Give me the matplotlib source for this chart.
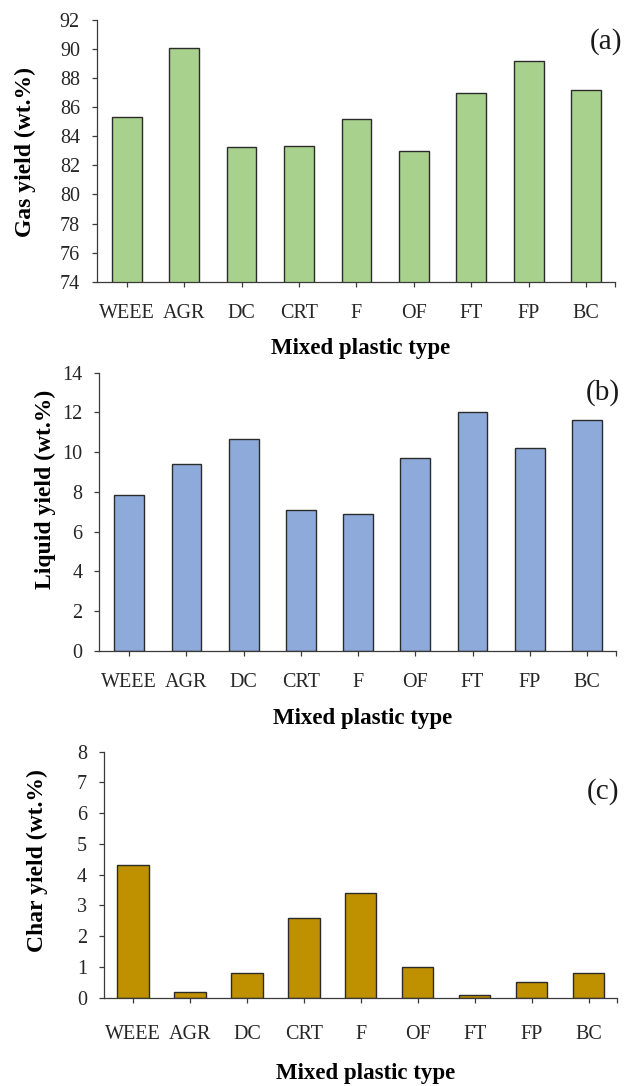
import matplotlib.pyplot as plt

plt.rcParams['font.family'] = ['Liberation Serif', 'DejaVu Serif']

# data
plastic_types = ['WEEE', 'AGR', 'DC', 'CRT', 'F', 'OF', 'FT', 'FP', 'BC']
gas_yield = [85.3, 90.1, 83.25, 83.3, 85.2, 83.0, 87.0, 89.2, 87.2]
liquid_yield = [7.84, 9.41, 10.67, 7.09, 6.89, 9.73, 12.0, 10.23, 11.64]
char_yield = [4.3, 0.2, 0.8, 2.6, 3.4, 1.0, 0.1, 0.5, 0.8]

gas_ticks = list(range(74, 93, 2))
liquid_ticks = list(range(0, 15, 2))
char_ticks = list(range(0, 9, 1))

AXIS_COL = '#3a3a3a'


def draw_panel(ax, values, color, yticks, ylabel, tag, xlim, width,
               xlab_y, ylab_xy, tag_xy, xpad):
    x = range(len(plastic_types))
    ax.bar(x, values, width=width, color=color, edgecolor='#2b2b2b', linewidth=1.0, zorder=2)
    ax.set_xlim(*xlim)
    ax.set_ylim(yticks[0], yticks[-1])
    ax.set_yticks(yticks)
    ax.set_xticks(list(x))
    ax.set_xticklabels(plastic_types)
    ax.set_xticks([xlim[1]], minor=True)
    for s in ['top', 'right']:
        ax.spines[s].set_visible(False)
    for s in ['left', 'bottom']:
        ax.spines[s].set_color(AXIS_COL)
        ax.spines[s].set_linewidth(0.9)
    ax.tick_params(axis='y', direction='out', length=3.6, width=0.9, color=AXIS_COL,
                   pad=8.5, labelsize=14.5, labelcolor='#262626')
    ax.tick_params(axis='x', which='both', direction='out', length=3.6, width=0.9,
                   color=AXIS_COL, pad=xpad, labelsize=14.5, labelcolor='#262626')
    ax.set_ylabel(ylabel, fontsize=17, fontweight='bold', va='center')
    ax.yaxis.set_label_coords(*ylab_xy)
    ax.set_xlabel('Mixed plastic type', fontsize=16.5, fontweight='bold', va='center')
    ax.xaxis.set_label_coords(0.51, xlab_y)
    ax.text(tag_xy[0], tag_xy[1], tag, transform=ax.transAxes, ha='right', va='center',
            fontsize=21, color='#1a1a1a')


fig = plt.figure(figsize=(6.24, 10.86), dpi=100)

ax1 = fig.add_axes([0.155, 0.7406, 0.8306, 0.241])
draw_panel(ax1, gas_yield, '#a9d18e', gas_ticks, 'Gas yield (wt.%)', '(a)',
           (-0.52, 8.5), 0.52, -0.256, (-0.1377, 0.494), (1.0135, 0.916), 12.6)

ax2 = fig.add_axes([0.1591, 0.4006, 0.828, 0.2563])
draw_panel(ax2, liquid_yield, '#8eaadb', liquid_ticks, 'Liquid yield (wt.%)', '(b)',
           (-0.524, 8.507), 0.52, -0.244, (-0.1045, 0.582), (1.0077, 0.927), 12.5)

ax3 = fig.add_axes([0.1667, 0.0813, 0.8221, 0.2265])
draw_panel(ax3, char_yield, '#bf9000', char_ticks, 'Char yield (wt.%)', '(c)',
           (-0.51, 8.5), 0.55, -0.31, (-0.1308, 0.556), (1.004, 0.837), 16.3)

plt.savefig('out.png', dpi=100)
